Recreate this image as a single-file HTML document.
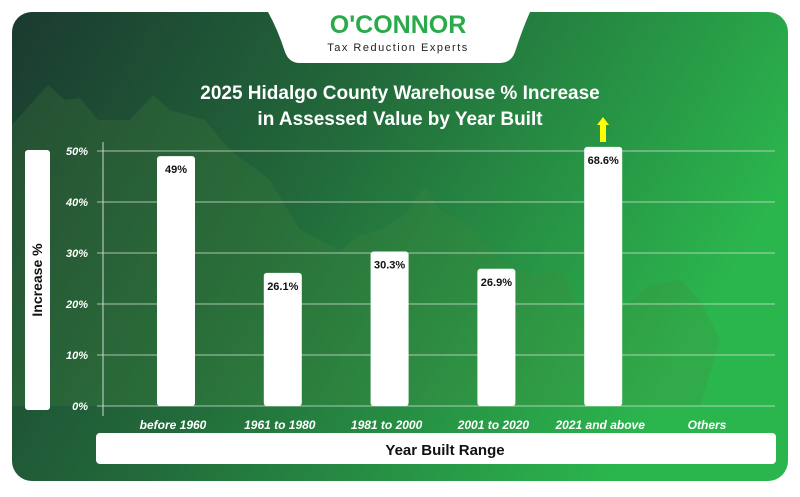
<!DOCTYPE html>
<html><head><meta charset="utf-8"><style>
body{margin:0;background:#fff;width:800px;height:492px;overflow:hidden;font-family:"Liberation Sans",sans-serif}
</style></head><body>
<svg width="800" height="492" viewBox="0 0 800 492" xmlns="http://www.w3.org/2000/svg">
<defs>
<linearGradient id="bg" x1="0" y1="0" x2="1" y2="0.35">
<stop offset="0" stop-color="#1b3a30"/><stop offset="0.45" stop-color="#22693a"/><stop offset="1" stop-color="#2bb54d"/>
</linearGradient>
</defs>
<rect x="12" y="12" width="776" height="469" rx="20" fill="url(#bg)"/>
<path d="M12,125 L48,85 L65,100 L80,98 L98,120 L130,120 L153,95 L170,110 L205,120 L230,150 L270,180 L300,230 L340,250 L360,235 L380,230 L405,215 L425,185 L440,210 L470,225 L500,260 L530,275 L560,270 L585,320 L620,310 L650,285 L680,280 L700,300 L720,340 L700,406 L12,406 Z" fill="#4a8a3a" opacity="0.22"/>
<path d="M268,12 L530,12 Q522,30 515,52 Q511,63 500,63 L300,63 Q289,63 285,52 Q278,30 268,12 Z" fill="#fff"/>
<text x="398" y="33" text-anchor="middle" font-size="25" font-weight="bold" fill="#2aaa4a">O'CONNOR</text>
<text x="398" y="51" text-anchor="middle" font-size="11" letter-spacing="1.5" fill="#222">Tax Reduction Experts</text>
<text x="400" y="99" text-anchor="middle" font-size="19" font-weight="bold" fill="#fff">2025 Hidalgo County Warehouse % Increase</text>
<text x="400" y="125" text-anchor="middle" font-size="19" font-weight="bold" fill="#fff">in Assessed Value by Year Built</text>
<rect x="25" y="150" width="25" height="260" rx="3" fill="#fff"/>
<text transform="translate(42,280) rotate(-90)" text-anchor="middle" font-size="14" font-weight="bold" fill="#111">Increase %</text>
<rect x="96" y="433" width="680" height="31" rx="4" fill="#fff"/>
<text x="445" y="455" text-anchor="middle" font-size="15" font-weight="bold" fill="#111">Year Built Range</text>
<line x1="103" y1="142" x2="103" y2="416" stroke="#cfd8cf" stroke-width="1"/>
<g id="grid"></g><g id="bars"></g>
<polygon points="603,117 597,125 600,125 600,142 606,142 606,125 609,125" fill="#ffff00"/>
</svg>
<script>
const categories=["before 1960","1961 to 1980","1981 to 2000","2001 to 2020","2021 and above","Others"];
const values=[49,26.1,30.3,26.9,68.6,null];
const valueLabels=["49%","26.1%","30.3%","26.9%","68.6%",""];
const yTicks=[0,10,20,30,40,50];
const NS="http://www.w3.org/2000/svg";
const y=v=>406-v*5.1;
const x=i=>176+i*106.8;
const grid=document.getElementById('grid'),bars=document.getElementById('bars');
function mk(t,a,p){const e=document.createElementNS(NS,t);for(const k in a)e.setAttribute(k,a[k]);p.appendChild(e);return e;}
yTicks.forEach(t=>{
 const l=mk('line',{x1:97,x2:775,y1:y(t),y2:y(t),stroke:'#d8e2d8','stroke-opacity':0.75,'stroke-width':1},grid);
 
 
 const tx=mk('text',{x:88,y:y(t)+4,'text-anchor':'end','font-size':11,'font-weight':'bold','font-style':'italic',fill:'#fff'},grid);
 tx.textContent=t+'%';
 
 
});
categories.forEach((c,i)=>{
 const v=values[i];
 if(v!=null){
  const vv=Math.min(v,50.8);
  const r=mk('rect',{x:x(i)-19,y:y(vv),width:38,height:406-y(vv),rx:3,fill:'#fff'},bars);
  
  
  const lt=mk('text',{x:x(i),y:y(vv)+17,'text-anchor':'middle','font-size':11,'font-weight':'bold',fill:'#111'},bars);
  lt.textContent=valueLabels[i];
  
  
 }
 const ct=mk('text',{x:x(i)-3,y:429,'text-anchor':'middle','font-size':12,'font-weight':'bold','font-style':'italic',fill:'#fff'},bars);
 ct.textContent=c;
 
 
});
</script>
</body></html>
